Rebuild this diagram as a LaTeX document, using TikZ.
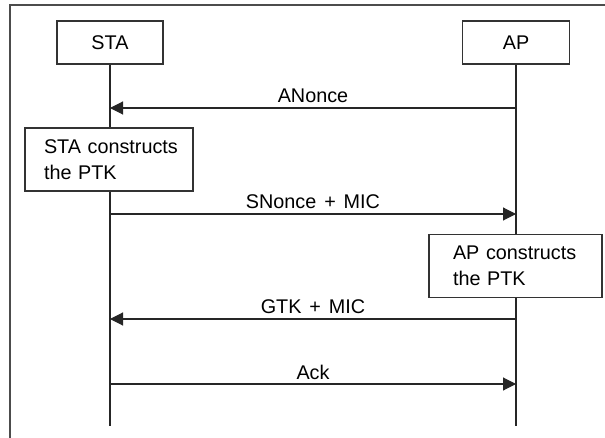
\documentclass[tikz,border=0pt]{standalone}
\usepackage{fontspec}
\setmainfont{Liberation Sans}
\usetikzlibrary{arrows.meta}
\begin{document}
\begin{tikzpicture}[x=1pt,y=-1pt,
  font=\fontsize{19.8}{26}\selectfont,
  box/.style={draw=black!80, line width=1.1pt, rectangle, inner ysep=0pt},
  lifeline/.style={draw=black!85, line width=1.1pt},
  msg/.style={draw=black!85, line width=1.1pt, -{Triangle[length=13pt,width=13pt]}},
  lbl/.style={pos=0.5, anchor=base, inner sep=0pt, yshift=5pt},
  frameline/.style={draw=black!70, line width=1.5pt}]
\useasboundingbox (0,0) rectangle (605,438);
% outer frame (cropped)
\draw[frameline] (10,438) -- (10,5) -- (605,5);
% participants
\node[box, minimum width=106pt, minimum height=43pt] (sta) at (110,42.5) {STA};
\node[box, minimum width=107pt, minimum height=43pt] (ap) at (516,42.5) {AP};
% processing boxes
\node[box, minimum height=63pt, inner xsep=19pt, text width=130pt, align=left] (stabox) at (109,159.5) {\mbox{STA constructs}\\\mbox{the PTK}};
\node[box, minimum height=63pt, inner xsep=24pt, text width=125pt, align=left] (apbox) at (515.5,266) {\mbox{AP constructs}\\\mbox{the PTK}};
% lifeline ends
\coordinate (staend) at (110,426);
\coordinate (apend) at (516,426);
\draw[lifeline] (sta.south) -- (sta.south |- stabox.north);
\draw[lifeline] (sta.south |- stabox.south) -- (staend);
\draw[lifeline] (ap.south) -- (ap.south |- apbox.north);
\draw[lifeline] (ap.south |- apbox.south) -- (apend);
% message end points
\coordinate (s1) at (110,108); \coordinate (a1) at (516,108);
\coordinate (s2) at (110,214); \coordinate (a2) at (516,214);
\coordinate (s3) at (110,319); \coordinate (a3) at (516,319);
\coordinate (s4) at (110,384); \coordinate (a4) at (516,384);
% messages
\draw[msg] (a1) -- node[lbl] {ANonce} (s1);
\draw[msg] (s2) -- node[lbl] {SNonce\hspace{0.4em}+\hspace{0.4em}MIC} (a2);
\draw[msg] (a3) -- node[lbl] {GTK\hspace{0.4em}+\hspace{0.4em}MIC} (s3);
\draw[msg] (s4) -- node[lbl] {Ack} (a4);
\end{tikzpicture}
\end{document}
